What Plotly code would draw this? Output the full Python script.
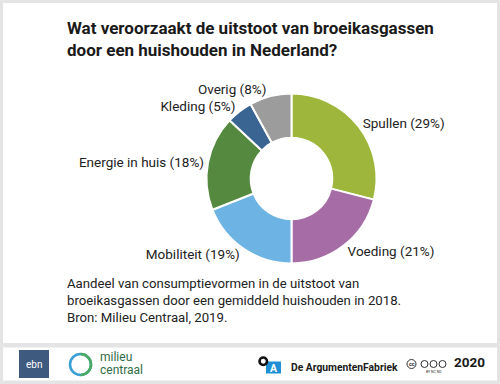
import plotly.graph_objects as go

categories = ["Spullen", "Voeding", "Mobiliteit", "Energie in huis", "Kleding", "Overig"]
values = [29, 21, 19, 18, 5, 8]
colors = ["#9db63b", "#a66ca6", "#6db3e4", "#55893f", "#3a6593", "#9c9c9c"]

title_text = "Wat veroorzaakt de uitstoot van broeikasgassen<br>door een huishouden in Nederland?"
caption_text = ("Aandeel van consumptievormen in de uitstoot van<br>"
                "broeikasgassen door een gemiddeld huishouden in 2018.<br>"
                "Bron: Milieu Centraal, 2019.")

W, H = 500, 384
FONT = "Roboto"


def px(x):
    return x / W


def py(y):
    return 1 - y / H


labels = [f"{c} ({v}%)" for c, v in zip(categories, values)]

cx, cy, r = 291.5, 178.5, 85
fig = go.Figure(go.Pie(
    labels=categories,
    values=values,
    text=labels,
    textinfo="text",
    textposition="outside",
    sort=False,
    direction="clockwise",
    rotation=0,
    hole=0.48,
    marker=dict(colors=colors, line=dict(color="white", width=2)),
    textfont=dict(family=FONT, size=13.5, color="#222222"),
    domain=dict(x=[px(cx - r), px(cx + r)], y=[py(cy + r), py(cy - r)]),
    showlegend=False,
    hoverinfo="label+value",
))

shapes = []
# white panels
shapes.append(dict(type="rect", xref="paper", yref="paper", x0=px(3), x1=px(497), y0=py(343), y1=py(3),
                   fillcolor="white", line=dict(width=0), layer="below"))
shapes.append(dict(type="rect", xref="paper", yref="paper", x0=px(3), x1=px(497), y0=py(380.5), y1=py(347.5),
                   fillcolor="white", line=dict(width=0), layer="below"))
# ebn logo
shapes.append(dict(type="rect", xref="paper", yref="paper", x0=px(19), x1=px(49), y0=py(378), y1=py(350),
                   fillcolor="#3f5a7f", line=dict(width=0), layer="below"))
# milieu centraal ring
shapes.append(dict(type="circle", xref="paper", yref="paper", x0=px(70), x1=px(91), y0=py(375), y1=py(354),
                   line=dict(color="#3c9fd6", width=2.6), layer="below"))
k = 0.5523
mcx, mcy, mr = 80.5, 364.5, 10.5
path = (f"M {px(mcx)},{py(mcy - mr)} "
        f"C {px(mcx + k*mr)},{py(mcy - mr)} {px(mcx + mr)},{py(mcy - k*mr)} {px(mcx + mr)},{py(mcy)} "
        f"C {px(mcx + mr)},{py(mcy + k*mr)} {px(mcx + k*mr)},{py(mcy + mr)} {px(mcx)},{py(mcy + mr)}")
shapes.append(dict(type="path", xref="paper", yref="paper", path=path,
                   line=dict(color="#4aaa62", width=2.6), layer="below"))
# ArgumentenFabriek logo
shapes.append(dict(type="rect", xref="paper", yref="paper", x0=px(266), x1=px(281), y0=py(373.5), y1=py(361.5),
                   fillcolor="#1f8fd6", line=dict(width=0), layer="below"))
shapes.append(dict(type="circle", xref="paper", yref="paper", x0=px(259.5), x1=px(267), y0=py(365), y1=py(357.5),
                   fillcolor="white", line=dict(color="#111111", width=2.6), layer="below"))
# CC icons
for i, xc in enumerate([411.5, 424.5, 433.5, 442.5]):
    rr = 4.5 if i == 0 else 3.5
    shapes.append(dict(type="circle", xref="paper", yref="paper", x0=px(xc - rr), x1=px(xc + rr),
                       y0=py(364 + rr), y1=py(364 - rr),
                       fillcolor="white", line=dict(color="#333333", width=1), layer="below"))


def txt(text, x, y, size, color="#1a1a1a", xanchor="center", yanchor="middle", bold=False, align="left",
        family=FONT):
    return dict(text=text, x=px(x), y=py(y), xref="paper", yref="paper", xanchor=xanchor, yanchor=yanchor,
                align=align, showarrow=False,
                font=dict(family=family, size=size, color=color, weight="bold" if bold else "normal"))


annotations = [
    txt(title_text, 65, 16, 17, xanchor="left", yanchor="top", bold=True),
    txt(caption_text, 65, 274, 13.2, color="#222222", xanchor="left", yanchor="top"),
    txt("ebn", 34, 364, 10, color="white"),
    txt("milieu", 97.5, 356.5, 12, color="#2f6b45", xanchor="left"),
    txt("centraal", 97.5, 370, 12, color="#2f6b45", xanchor="left"),
    txt("A", 273.5, 368, 10.5, color="white", bold=True),
    txt("De ArgumentenFabriek", 289, 367, 10.3, xanchor="left", bold=True),
    txt("cc", 411.5, 364, 5.5, color="#333333", bold=True),
    txt("BY NC ND", 433.5, 371.5, 3.5, color="#333333"),
    txt("2020", 452, 361.5, 13.5, xanchor="left", bold=True),
]

fig.update_layout(
    width=W, height=H,
    margin=dict(l=0, r=0, t=0, b=0),
    paper_bgcolor="#e4e4e4",
    plot_bgcolor="#e4e4e4",
    shapes=shapes,
    annotations=annotations,
    font=dict(family=FONT),
)

fig.write_html("out.html", config={"displayModeBar": False},
               post_script="document.body.style.margin='0';document.body.style.padding='0';"
                           "document.body.style.overflow='hidden';")
